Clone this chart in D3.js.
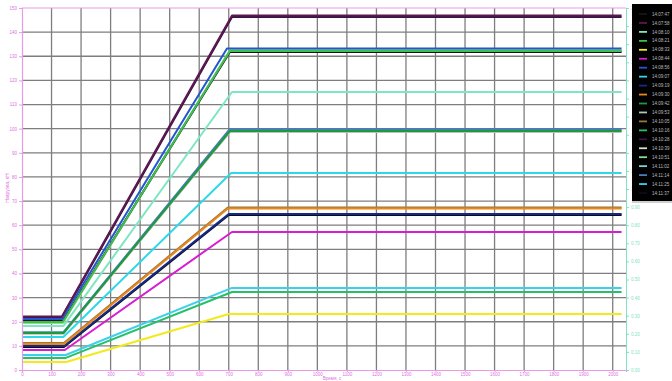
<!DOCTYPE html>
<html>
<head>
<meta charset="utf-8">
<script src="https://cdn.jsdelivr.net/npm/d3@7"></script>
<style>
  html, body { margin: 0; padding: 0; background: #fff; }
  svg { display: block; font-family: "Liberation Sans", Arial, sans-serif; }
</style>
</head>
<body>
<svg id="chart" width="672" height="381"></svg>
<script>
// Channel names (recording timestamps) shown in the legend
const channelNames = [
  "14:07:47", "14:07:58", "14:08:10", "14:08:21", "14:08:33", "14:08:44", "14:08:56",
  "14:09:07", "14:09:19", "14:09:30", "14:09:42", "14:09:53", "14:10:05", "14:10:16",
  "14:10:28", "14:10:39", "14:10:51", "14:11:02", "14:11:14", "14:11:25", "14:11:37"
];
const channelColors = [
  "#161616", "#5c1850", "#7fe6c2", "#3fbf4f", "#f2ea1c", "#d81cd0", "#2456d0",
  "#2fd8e6", "#142a88", "#e8871e", "#1e9a3a", "#b9c2b9", "#9b7638", "#25c06a",
  "#3a1446", "#d6dcd6", "#8ae08a", "#7ad8c4", "#4a7cb8", "#3cd0ea", "#0c0c1c"
];
// Level before loading and level on the hold plateau
const startLevel = [20.3, 22.2, 18.2, 19.9, 3.3, 8.3, 21.1, 13.7, 9.9, 10.8, 15.3,
                    15.0, 11.2, 5.0, 21.7, 19.5, 19.5, 15.7, 15.5, 6.2, 9.5];
const endLevel   = [131.8, 146.9, 115.2, 132.2, 23.2, 57.2, 133.2, 81.6, 64.6, 66.9, 99.0,
                    98.6, 67.3, 32.3, 146.3, 132.0, 132.6, 99.3, 99.9, 34.0, 64.2];
// Time the ramp starts and the time the plateau is reached, s
const rampStart  = [138, 135, 140, 138, 150, 145, 135, 140, 142, 142, 140,
                    140, 142, 148, 135, 138, 138, 140, 140, 148, 142];
const rampEnd    = [704, 711, 711, 704, 700, 711, 694, 708, 700, 697, 704,
                    704, 697, 711, 711, 704, 704, 704, 704, 711, 700];
const recordEnd = 2030;

const xTickValues = [0, 100, 200, 300, 400, 500, 600, 700, 800, 900, 1000,
                     1100, 1200, 1300, 1400, 1500, 1600, 1700, 1800, 1900, 2000];
const yTickValues = [0, 10, 20, 30, 40, 50, 60, 70, 80, 90, 100, 110, 120, 130, 140, 150];
const y2TickValues = [0, 0.1, 0.2, 0.3, 0.4, 0.5, 0.6, 0.7, 0.8, 0.9, 1.0,
                      1.1, 1.2, 1.3, 1.4, 1.5, 1.6, 1.7, 1.8, 1.9, 2.0];

const xTitle = "Время, с";
const yTitle = "Нагрузка, кН";

const svg = d3.select("#chart");
const plotLeft = 22, plotRight = 626, plotTop = 8, plotBottom = 370;

const x = d3.scaleLinear().domain([0, 2045]).range([plotLeft, plotRight]);
const y = d3.scaleLinear().domain([0, 150]).range([plotBottom, plotTop]);
const y2 = d3.scaleLinear().domain([0, 2]).range([plotBottom, plotTop]);

const pink = "#e79be7";
const pinkText = "#dc72dc";
const teal = "#7fe3c3";

// grid
const grid = svg.append("g");
grid.selectAll("line.v").data(xTickValues.slice(1)).join("line")
  .attr("x1", d => x(d)).attr("x2", d => x(d))
  .attr("y1", plotTop).attr("y2", plotBottom)
  .attr("stroke", "#7e7e7e").attr("stroke-width", 1.3);
grid.selectAll("line.h").data(yTickValues.slice(1, -1)).join("line")
  .attr("x1", plotLeft).attr("x2", plotRight)
  .attr("y1", d => y(d)).attr("y2", d => y(d))
  .attr("stroke", "#7e7e7e").attr("stroke-width", 1.3);

// top border
svg.append("line").attr("x1", plotLeft).attr("x2", plotRight).attr("y1", plotTop).attr("y2", plotTop)
  .attr("stroke", pink).attr("stroke-width", 1);

// series: draw the lighter channels first so the saturated ones stay on top
const line = d3.line().x(d => x(d[0])).y(d => y(d[1]));
const seriesPoints = channelNames.map((n, i) => ({
  i,
  pts: [[0, startLevel[i]], [rampStart[i], startLevel[i]],
        [rampEnd[i], endLevel[i]], [recordEnd, endLevel[i]]]
}));
const drawOrder = [11, 15, 17, 18, 14, 16, 2, 0, 3, 6, 1, 12, 20, 8, 9, 10, 7, 5, 19, 13, 4];
svg.append("g").selectAll("path").data(drawOrder.map(k => seriesPoints[k])).join("path")
  .attr("d", d => line(d.pts))
  .attr("fill", "none")
  .attr("stroke", d => channelColors[d.i])
  .attr("stroke-width", 2)
  .attr("stroke-linejoin", "round");

// axes
const xAxis = svg.append("g").attr("transform", `translate(0,${plotBottom})`)
  .call(d3.axisBottom(x).tickValues(xTickValues).tickSize(2).tickPadding(1).tickFormat(d3.format("d")));
const yAxis = svg.append("g").attr("transform", `translate(${plotLeft},0)`)
  .call(d3.axisLeft(y).tickValues(yTickValues).tickSize(3).tickPadding(2).tickFormat(d3.format("d")));
const y2Axis = svg.append("g").attr("transform", `translate(${plotRight},0)`)
  .call(d3.axisRight(y2).tickValues(y2TickValues).tickSize(3).tickPadding(2).tickFormat(d3.format(".2f")));

[xAxis, yAxis].forEach(g => {
  g.select(".domain").attr("stroke", pink).attr("stroke-width", 1.2);
  g.selectAll(".tick line").attr("stroke", pink);
  g.selectAll(".tick text").attr("fill", pinkText).attr("font-size", 4.5);
});
y2Axis.select(".domain").attr("stroke", teal).attr("stroke-width", 1);
y2Axis.selectAll(".tick line").attr("stroke", teal);
y2Axis.selectAll(".tick text").attr("fill", teal).attr("font-size", 4.5);

// axis titles
svg.append("text").attr("x", 332).attr("y", 380.1).attr("text-anchor", "middle")
  .attr("fill", pinkText).attr("font-size", 4.5).text(xTitle);
svg.append("text").attr("transform", "translate(9,188) rotate(-90)").attr("text-anchor", "middle")
  .attr("fill", pinkText).attr("font-size", 5).text(yTitle);

// legend
const lg = svg.append("g");
lg.append("rect").attr("x", 632).attr("y", 201).attr("width", 40).attr("height", 2).attr("fill", "#cfcfcf");
lg.append("rect").attr("x", 632).attr("y", 4).attr("width", 40).attr("height", 197).attr("fill", "#000");
const rows = lg.selectAll("g.row").data(channelNames).join("g")
  .attr("transform", (d, i) => `translate(0,${14 + i * 8.95})`);
rows.append("line").attr("x1", 639).attr("x2", 647).attr("y1", 0).attr("y2", 0)
  .attr("stroke", (d, i) => channelColors[i]).attr("stroke-width", 1.8);
rows.append("text").attr("x", 652).attr("y", 1.6).attr("fill", "#bdbdbd")
  .attr("font-size", 4.5).text(d => d);
</script>
</body>
</html>
